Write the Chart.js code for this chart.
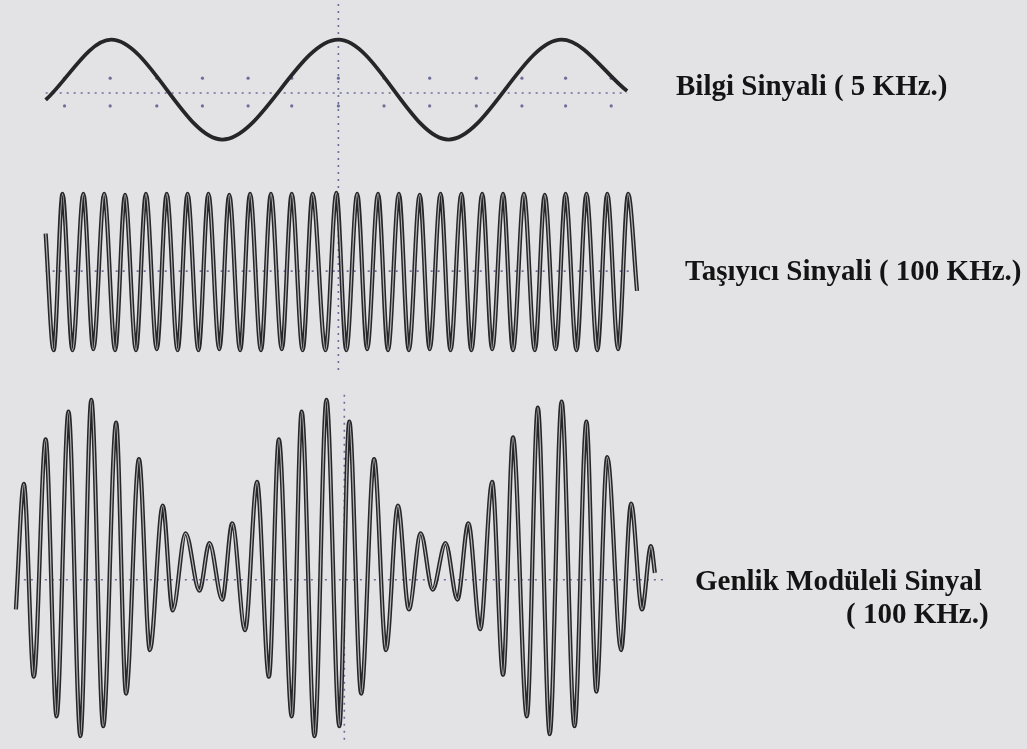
<!DOCTYPE html>
<html>
<head>
<meta charset="utf-8">
<script src="https://cdn.jsdelivr.net/npm/chart.js@4.4.0/dist/chart.umd.min.js"></script>
<style>
  html, body { margin: 0; padding: 0; background: #e3e3e5; }
  #wrap { position: relative; width: 1027px; height: 749px; overflow: hidden; }
  #scope { position: absolute; left: 0; top: 0; }
  .lbl {
    position: absolute;
    font-family: "Liberation Serif", "Times New Roman", serif;
    font-weight: bold;
    font-size: 29px;
    line-height: 29px;
    color: #141414;
    white-space: nowrap;
  }
</style>
</head>
<body>
<div id="wrap">
  <canvas id="scope" width="1027" height="749"></canvas>
  <div class="lbl" style="left:676px; top:71px;">Bilgi Sinyali ( 5 KHz.)</div>
  <div class="lbl" style="left:685px; top:256px;">Taşıyıcı Sinyali ( 100 KHz.)</div>
  <div class="lbl" style="left:695px; top:566px;">Genlik Modüleli Sinyal</div>
  <div class="lbl" style="left:846px; top:599px;">( 100 KHz.)</div>
</div>
<script>
// time in us relative to the trigger marker, amplitude in volts
var sineTime = [-295, -229, -117, 0, 111, 225, 291];
var sineVolt = [-0.7, 5.4, -4.7, 5.4, -4.7, 5.4, 0.2];

var carrierTime = [-295,
  -287, -278, -268, -257, -247, -236, -225, -215, -204, -194,
  -183, -173, -162, -152, -141, -131, -120, -110, -99, -89,
  -78, -68, -57, -47, -36, -26, -13, -2, 8, 19,
  29, 40, 50, 61, 71, 82, 92, 103, 113, 124,
  134, 145, 155, 166, 176, 187, 198, 208, 219, 229,
  240, 250, 261, 271, 282, 292,
  301];
var carrierVolt = [3.8,
  -8.0, 7.8, -8.0, 7.8, -7.9, 7.8, -8.0, 7.7, -8.0, 7.8,
  -7.9, 7.8, -8.0, 7.8, -8.0, 7.8, -7.9, 7.7, -8.0, 7.8,
  -8.0, 7.8, -7.9, 7.8, -8.0, 7.8, -8.0, 7.9, -8.0, 7.8,
  -7.9, 7.8, -8.0, 7.8, -8.0, 7.7, -7.9, 7.8, -8.0, 7.8,
  -8.0, 7.8, -7.9, 7.8, -8.0, 7.8, -8.0, 7.7, -7.9, 7.8,
  -8.0, 7.8, -8.0, 7.8, -7.9, 7.8,
  -2.0];

var amTime = [-325, -317, -307, -295, -284, -272, -260, -249, -237, -224,
  -214, -201, -190, -177, -167, -154, -140, -130, -117, -107,
  -94, -82, -70, -60, -47, -37, -24, -12, 1, 11,
  23, 36, 48, 60, 71, 83, 95, 108, 120, 131,
  143, 155, 166, 176, 190, 201, 213, 225, 238, 250,
  260, 271, 285, 295, 306, 315, 319];
var amVolt = [-3.0, 9.7, -9.8, 14.2, -13.8, 17.0, -15.8, 18.2, -14.8, 15.9,
  -11.5, 12.2, -7.1, 7.5, -3.1, 4.7, -1.1, 3.7, -2.0, 5.7,
  -5.1, 9.9, -9.8, 14.2, -13.8, 17.0, -15.8, 18.2, -14.8, 16.0,
  -11.5, 12.2, -7.1, 7.5, -3.0, 4.7, -1.0, 3.7, -2.0, 5.7,
  -5.0, 9.9, -9.6, 14.4, -13.8, 17.4, -15.6, 18.0, -14.8, 16.0,
  -11.3, 12.4, -7.1, 7.7, -3.0, 3.4, 0.7];

// graticule
var sineAxisSpan = [-295, 291];
var carrierAxisSpan = [-295, 301];
var amAxisSpan = [-317, 328];
var sineTickTime = [-276, -230, -183, -137, -91, -47, 0, 46, 92, 139, 185, 229, 275];
var sineTickVolt = [1.5, -1.3];
var markerSpanTop = [9.0, -28.5];   // trigger marker through sine + carrier
var markerSpanAm = [18.7, -16.3];   // marker in the AM trace
var markerAmTime = 6;

function pts(xs, ys) {
  return xs.map(function(x, i) { return { x: x, y: ys[i] }; });
}

var trace = "#262628";
var core = "#b4b4b8";
var dots = "rgba(88,88,140,0.85)";

var tickDots = [];
sineTickVolt.forEach(function(v) {
  sineTickTime.forEach(function(t) { tickDots.push({ x: t, y: v }); });
});

function wave(label, data, axis, color, width, order) {
  return {
    label: label,
    data: data,
    yAxisID: axis,
    borderColor: color,
    borderWidth: width,
    pointRadius: 0,
    fill: false,
    cubicInterpolationMode: "monotone",
    order: order
  };
}

function dotted(label, data, axis) {
  return {
    label: label,
    data: data,
    yAxisID: axis,
    borderColor: dots,
    borderWidth: 1.6,
    borderDash: [2, 5],
    pointRadius: 0,
    tension: 0,
    fill: false,
    order: 5
  };
}

var graphData = {
  type: "line",
  data: {
    datasets: [
      wave("AM core", pts(amTime, amVolt), "yAM", core, 1.2, 1),
      wave("Carrier core", pts(carrierTime, carrierVolt), "yCar", core, 1.2, 1),
      wave("Genlik Modüleli Sinyal", pts(amTime, amVolt), "yAM", trace, 4.2, 2),
      wave("Taşıyıcı Sinyali", pts(carrierTime, carrierVolt), "yCar", trace, 4.2, 2),
      wave("Bilgi Sinyali", pts(sineTime, sineVolt), "ySine", trace, 3.8, 2),
      dotted("sine axis", pts(sineAxisSpan, [0, 0]), "ySine"),
      dotted("carrier axis", pts(carrierAxisSpan, [0, 0]), "yCar"),
      dotted("am axis", pts(amAxisSpan, [0, 0]), "yAM"),
      dotted("marker", pts([0, 0], markerSpanTop), "ySine"),
      dotted("marker am", pts([markerAmTime, markerAmTime], markerSpanAm), "yAM"),
      {
        label: "ticks",
        data: tickDots,
        yAxisID: "ySine",
        showLine: false,
        pointRadius: 1.6,
        pointBorderWidth: 0,
        pointBackgroundColor: dots,
        order: 5
      }
    ]
  },
  options: {
    responsive: false,
    animation: false,
    layout: { padding: 0 },
    plugins: { legend: { display: false }, tooltip: { enabled: false } },
    scales: {
      x: { type: "linear", min: -337, max: 690, display: false },
      ySine: { type: "linear", min: -65.9, max: 9.0, display: false },
      yCar: { type: "linear", min: -47.9, max: 27.0, display: false },
      yAM: { type: "linear", min: -16.7, max: 58.2, display: false }
    }
  }
};

var context = document.getElementById("scope").getContext("2d");
var scopeChart = new Chart(context, graphData);
</script>
</body>
</html>
